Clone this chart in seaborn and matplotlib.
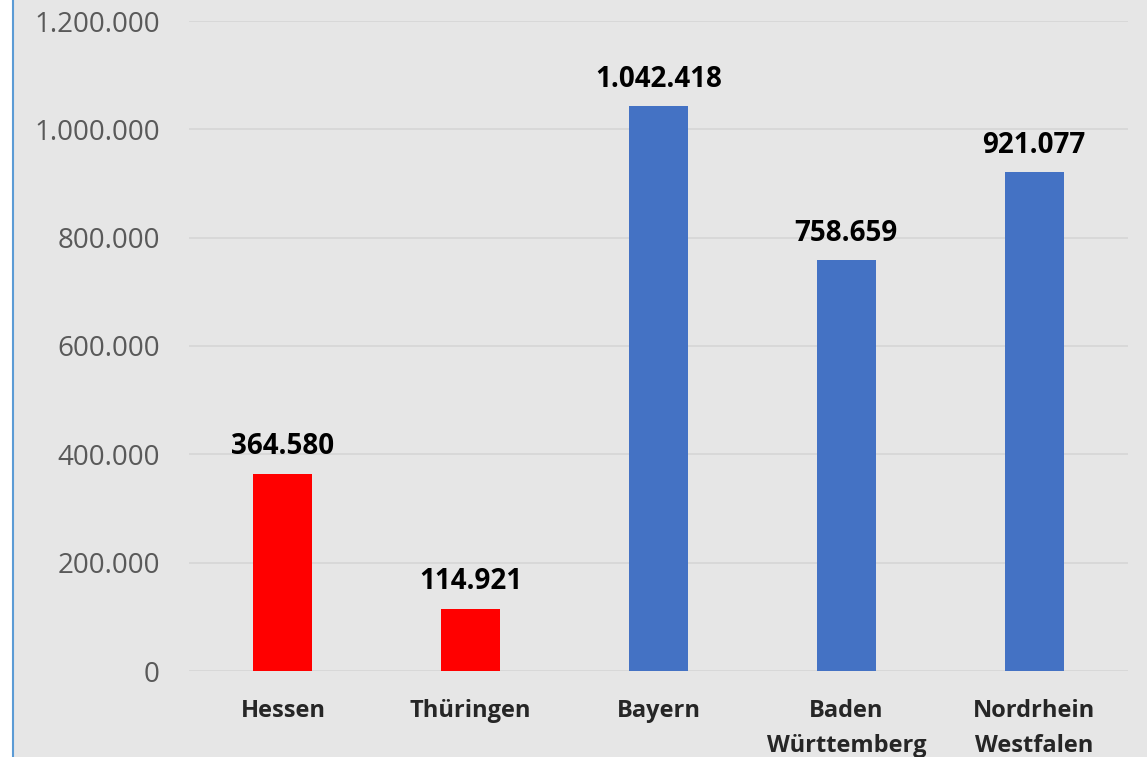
import matplotlib
matplotlib.use("Agg")
import matplotlib.pyplot as plt
import seaborn as sns
from matplotlib.lines import Line2D
from matplotlib.patches import Rectangle
from matplotlib.ticker import FuncFormatter

categories = ["Hessen", "Thüringen", "Bayern", "Baden\nWürttemberg", "Nordrhein\nWestfalen"]
values = [364580, 114921, 1042418, 758659, 921077]
bar_colors = ["#ff0000", "#ff0000", "#4472c4", "#4472c4", "#4472c4"]
y_ticks = [0, 200000, 400000, 600000, 800000, 1000000, 1200000]

sns.set_style("white")
plt.rcParams["font.family"] = ["Open Sans", "DejaVu Sans"]

def de_fmt(v):
    return f"{int(round(v)):,}".replace(",", ".")

bg = "#e6e6e6"
fig = plt.figure(figsize=(11.47, 7.57), dpi=100, facecolor=bg)
fig.add_artist(Rectangle((0, 0), 12 / 1147, 1, transform=fig.transFigure, facecolor="white", edgecolor="none"))
fig.add_artist(Line2D([12.5 / 1147, 12.5 / 1147], [0, 1], transform=fig.transFigure, color="#5b9bd5", lw=1.5))

ax = fig.add_axes([189 / 1147, 1 - 671 / 757, (1128 - 189) / 1147, (671 - 21) / 757])
ax.set_facecolor(bg)

sns.barplot(x=categories, y=values, hue=categories, palette=bar_colors, width=0.314,
            legend=False, ax=ax, saturation=1, linewidth=0, edgecolor="none")

ax.set_ylim(0, 1200000)
ax.set_yticks(y_ticks)
ax.yaxis.set_major_formatter(FuncFormatter(lambda v, p: de_fmt(v)))
ax.grid(axis="y", color="#d6d6d6", lw=1.2)
ax.set_axisbelow(True)
for s in ax.spines.values():
    s.set_visible(False)

ax.tick_params(axis="y", length=0, pad=21, labelsize=20, labelcolor="#595959")
ax.tick_params(axis="x", length=0, pad=20, labelsize=17)
for lab in ax.get_xticklabels():
    lab.set_fontweight("bold")
    lab.set_linespacing(1.6)
ax.set_xlabel("")
ax.set_ylabel("")

for cont in ax.containers:
    ax.bar_label(cont, labels=[de_fmt(v) for v in cont.datavalues], padding=9,
                 fontsize=20, fontweight="bold", color="black")

fig.savefig("out.png", dpi=100, facecolor=bg)
